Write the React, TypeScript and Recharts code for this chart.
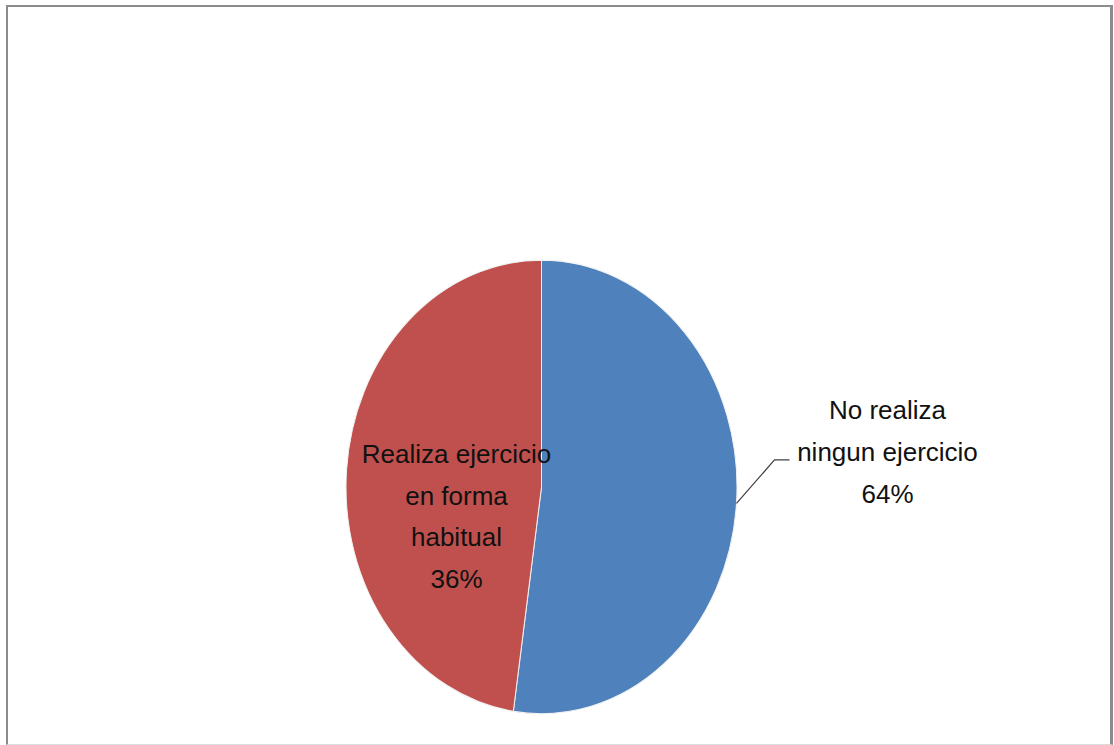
import React from "react";
import { PieChart, Pie, Cell } from "recharts";

// slice sizes as drawn in the picture, and the percent text printed on it
const categories = ["No realiza ningun ejercicio", "Realiza ejercicio en forma habitual"];
const shares = [52.3, 47.7];
const shownPercents = ["64%", "36%"];
const labelRows = [
  ["No realiza", "ningun ejercicio"],
  ["Realiza ejercicio", "en forma", "habitual"],
];
const sliceColors = ["#4F81BD", "#C0504D"];

const data = categories.map((name, i) => ({
  name,
  value: shares[i],
  pct: shownPercents[i],
  rows: labelRows[i],
}));

// the pie is drawn squashed into an ellipse, text is kept upright
const SY = 1.16;
const RAD = Math.PI / 180;

const font = {
  fontFamily: "'Liberation Sans', Arial, sans-serif",
  fontSize: 26,
  fill: "#111",
};

const renderLabel = (props: any) => {
  const { cx, cy, midAngle, outerRadius, index } = props;
  const d = data[index];
  const rows = [...d.rows, d.pct];
  if (index === 0) {
    const ex = outerRadius * Math.cos(-midAngle * RAD);
    const ey = outerRadius * Math.sin(-midAngle * RAD) * SY;
    return (
      <g transform={`translate(${cx},${cy}) scale(1,${1 / SY})`}>
        <polyline
          points={`${ex},${ey} ${ex + 38},${-27} ${ex + 53},${-27}`}
          fill="none"
          stroke="#404040"
          strokeWidth={1.2}
        />
        {rows.map((t, i) => (
          <text key={i} x={346} y={-68 + i * 42} textAnchor="middle" {...font}>
            {t}
          </text>
        ))}
      </g>
    );
  }
  return (
    <g transform={`translate(${cx},${cy}) scale(1,${1 / SY})`}>
      {rows.map((t, i) => (
        <text key={i} x={-85} y={-24 + i * 41.7} textAnchor="middle" {...font}>
          {t}
        </text>
      ))}
    </g>
  );
};

export default function App() {
  return (
    <div
      style={{
        position: "absolute",
        left: 0,
        top: 0,
        width: 1114,
        height: 745,
        background: "#fff",
        overflow: "hidden",
      }}
    >
      <div
        style={{
          position: "absolute",
          left: 0,
          top: 0,
          width: 1114,
          height: 642,
          transform: `scaleY(${SY})`,
          transformOrigin: "0 0",
        }}
      >
        <PieChart width={1114} height={642}>
          <Pie
            data={data}
            dataKey="value"
            nameKey="name"
            cx={536.5}
            cy={414.8}
            outerRadius={195.5}
            startAngle={90}
            endAngle={-270}
            stroke="#f2f2f2"
            strokeWidth={1}
            label={renderLabel}
            labelLine={false}
            isAnimationActive={false}
          >
            {data.map((d, i) => (
              <Cell key={d.name} fill={sliceColors[i]} />
            ))}
          </Pie>
        </PieChart>
      </div>
      <div
        style={{
          position: "absolute",
          left: 6,
          top: 5,
          width: 1102,
          height: 737,
          borderTop: "2px solid #8c8c8c",
          borderLeft: "2px solid #8c8c8c",
          borderRight: "3px solid #8c8c8c",
          borderBottom: "1px solid #dcdcdc",
          pointerEvents: "none",
        }}
      />
    </div>
  );
}
